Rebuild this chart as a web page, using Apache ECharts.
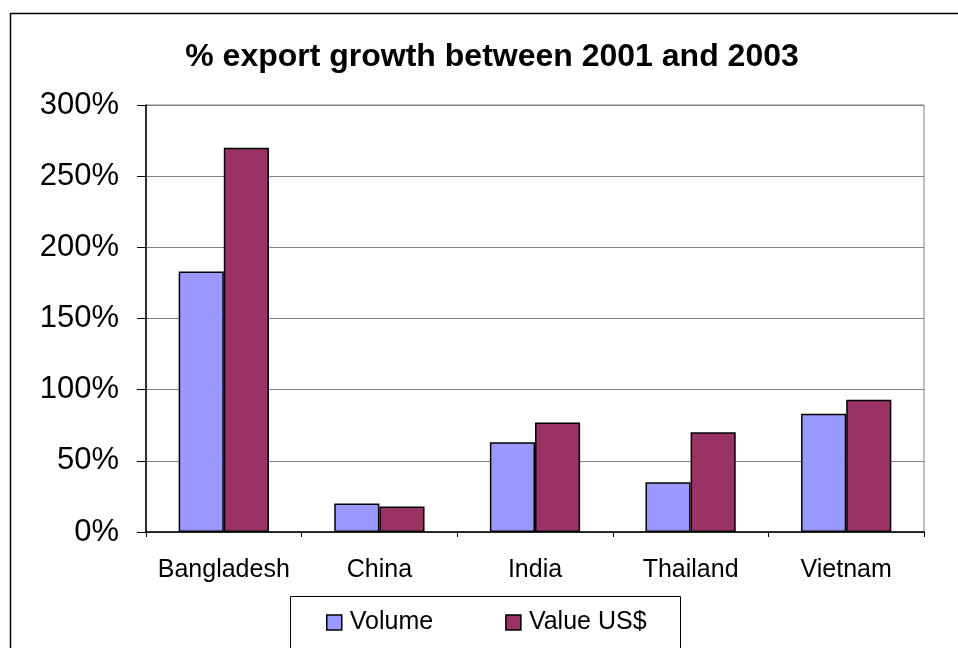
<!DOCTYPE html>
<html>
<head>
<meta charset="utf-8">
<script src="https://cdn.jsdelivr.net/npm/echarts@6/dist/echarts.min.js"></script>
<style>
  html, body { margin: 0; padding: 0; background: #fff; }
  #chart { width: 958px; height: 648px; }
</style>
</head>
<body>
<div id="chart"></div>
<script>
// Export growth (%) by country, 2001 to 2003
const countries = ['Bangladesh', 'China', 'India', 'Thailand', 'Vietnam'];
const volume = [183, 20, 63, 35, 83];
const valueUSD = [270, 18, 77, 70, 93];
const yTicks = { min: 0, max: 300, step: 50 };

const FONT = "'Liberation Sans', Arial, sans-serif";
const chart = echarts.init(document.getElementById('chart'), null, { renderer: 'canvas' });

chart.setOption({
  backgroundColor: '#ffffff',
  animation: false,
  textStyle: { fontFamily: FONT, color: '#000' },
  title: {
    text: '% export growth between 2001 and 2003',
    left: 487, top: 36, textAlign: 'center',
    textStyle: { fontFamily: FONT, fontSize: 32, fontWeight: 'bold', color: '#000' }
  },
  graphic: [
    { type: 'rect', shape: { x: 10.5, y: 13.5, width: 1000, height: 700 },
      style: { fill: 'none', stroke: '#000', lineWidth: 1.5 }, z: 100 },
    { type: 'rect', shape: { x: 290.5, y: 596.5, width: 390, height: 100 },
      style: { fill: '#fff', stroke: '#000', lineWidth: 1 }, z: 0 }
  ],
  legend: {
    data: ['Volume', 'Value US$'],
    left: 326, top: 610, padding: 0,
    itemWidth: 15, itemHeight: 15, itemGap: 72,
    icon: 'rect',
    itemStyle: { borderColor: '#000', borderWidth: 1.5 },
    textStyle: { fontFamily: FONT, fontSize: 25, color: '#000', padding: [0, 0, 0, 3] },
    z: 10
  },
  grid: {
    left: 146, top: 105, right: 34, bottom: 116,
    show: true, borderColor: '#808080', borderWidth: 1, backgroundColor: '#fff'
  },
  xAxis: {
    type: 'category',
    data: countries,
    axisLine: { lineStyle: { color: '#000', width: 1.5 } },
    axisTick: { show: true, length: 5, interval: 0, lineStyle: { color: '#000' } },
    axisLabel: { fontFamily: FONT, fontSize: 25, color: '#000', margin: 26, interval: 0 }
  },
  yAxis: {
    type: 'value',
    min: yTicks.min, max: yTicks.max, interval: yTicks.step,
    axisLine: { show: true, lineStyle: { color: '#000', width: 1.5 } },
    axisTick: { show: true, length: 9, lineStyle: { color: '#000' } },
    splitLine: { lineStyle: { color: '#808080', width: 1 } },
    axisLabel: { fontFamily: FONT, fontSize: 31, color: '#000', margin: 27, formatter: '{value}%' }
  },
  series: [
    {
      name: 'Volume', type: 'bar', data: volume,
      barGap: '0%', barCategoryGap: '42%',
      itemStyle: { color: '#9999FF', borderColor: '#000', borderWidth: 1.5 }
    },
    {
      name: 'Value US$', type: 'bar', data: valueUSD,
      itemStyle: { color: '#993366', borderColor: '#000', borderWidth: 1.5 }
    }
  ]
});
</script>
</body>
</html>
